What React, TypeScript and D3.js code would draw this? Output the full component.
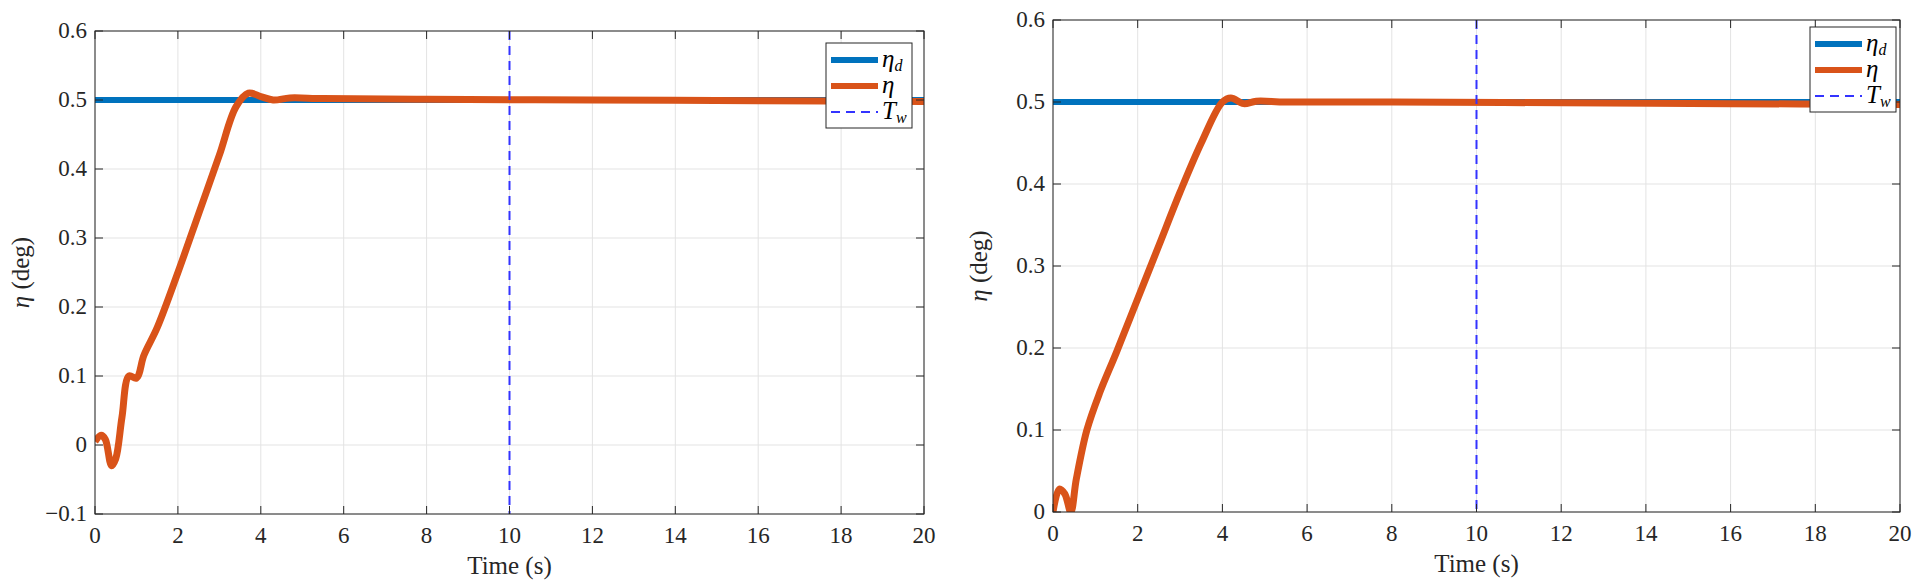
import React from 'react';
import * as d3 from 'd3';

const timeTicks = [0, 2, 4, 6, 8, 10, 12, 14, 16, 18, 20];
const leftYTicks = [-0.1, 0, 0.1, 0.2, 0.3, 0.4, 0.5, 0.6];
const rightYTicks = [0, 0.1, 0.2, 0.3, 0.4, 0.5, 0.6];
const desired = 0.5;
const switchTime = 10;

// [time, eta]
const leftEta: [number, number][] = [
  [0, 0.005], [0.15, 0.014], [0.25, 0.008], [0.4, -0.03], [0.5, -0.02], [0.65, 0.04],
  [0.82, 0.1], [1.0, 0.097], [1.18, 0.13], [1.5, 0.17], [2, 0.25], [2.5, 0.335],
  [3, 0.42], [3.4, 0.49], [3.7, 0.51], [4.0, 0.505], [4.3, 0.5], [4.7, 0.503],
  [5.5, 0.502], [8, 0.501], [12, 0.5], [16, 0.499], [20, 0.498],
];
const rightEta: [number, number][] = [
  [0, 0.0], [0.15, 0.028], [0.28, 0.022], [0.42, 0.0], [0.55, 0.04], [0.8, 0.1],
  [1.1, 0.145], [1.5, 0.195], [2, 0.26], [2.5, 0.325], [3, 0.39], [3.5, 0.45],
  [4, 0.5], [4.2, 0.505], [4.5, 0.498], [4.8, 0.501], [5.5, 0.5], [8, 0.5],
  [12, 0.499], [16, 0.498], [20, 0.497],
];

const font = "'Liberation Serif', 'DejaVu Serif', serif";

interface PanelProps {
  left: number; right: number; top: number; bottom: number;
  yTicks: number[]; yDomain: [number, number]; eta: [number, number][];
  legend: { x: number; y: number };
}

const Panel: React.FC<PanelProps> = ({ left, right, top, bottom, yTicks, yDomain, eta, legend }) => {
  const x = d3.scaleLinear().domain([0, 20]).range([left, right]);
  const y = d3.scaleLinear().domain(yDomain).range([bottom, top]);
  const line = d3.line<[number, number]>().x(d => x(d[0])).y(d => y(d[1])).curve(d3.curveCatmullRom);
  const fmt = (v: number) => (v < 0 ? '\u22120.1' : v === 0 ? '0' : v.toFixed(1));
  return (
    <g style={{ fontFamily: font }}>
      <defs>
        <clipPath id={`c${left}`}><rect x={left} y={top} width={right - left} height={bottom - top} /></clipPath>
      </defs>
      {timeTicks.map(t => <line key={'gx' + t} x1={x(t)} x2={x(t)} y1={top} y2={bottom} stroke="#e3e3e3" />)}
      {yTicks.map(v => <line key={'gy' + v} x1={left} x2={right} y1={y(v)} y2={y(v)} stroke="#e3e3e3" />)}
      <g clipPath={`url(#c${left})`}>
        <line x1={left} x2={right} y1={y(desired)} y2={y(desired)} stroke="#0072BD" strokeWidth={6} />
        <path d={line(eta)!} fill="none" stroke="#D95319" strokeWidth={7} strokeLinejoin="round" />
        <line x1={x(switchTime)} x2={x(switchTime)} y1={top} y2={bottom} stroke="#3333ff" strokeWidth={2} strokeDasharray="9,6" />
      </g>
      <rect x={left} y={top} width={right - left} height={bottom - top} fill="none" stroke="#262626" strokeWidth={1} />
      {timeTicks.map(t => (
        <g key={'tx' + t}>
          <line x1={x(t)} x2={x(t)} y1={bottom} y2={bottom - 8} stroke="#262626" />
          <line x1={x(t)} x2={x(t)} y1={top} y2={top + 8} stroke="#262626" />
          <text x={x(t)} y={bottom + 29} fontSize={23} textAnchor="middle" fill="#262626">{t}</text>
        </g>
      ))}
      {yTicks.map(v => (
        <g key={'ty' + v}>
          <line x1={left} x2={left + 8} y1={y(v)} y2={y(v)} stroke="#262626" />
          <line x1={right} x2={right - 8} y1={y(v)} y2={y(v)} stroke="#262626" />
          <text x={left - 8} y={y(v) + 7} fontSize={23} textAnchor="end" fill="#262626">{fmt(v)}</text>
        </g>
      ))}
      <text x={(left + right) / 2} y={bottom + 60} fontSize={25} textAnchor="middle" fill="#262626">Time (s)</text>
      <text transform={`translate(${left - 66},${(top + bottom) / 2}) rotate(-90)`} fontSize={25} textAnchor="middle" fill="#262626">
        <tspan fontStyle="italic">η</tspan> (deg)
      </text>
      <g transform={`translate(${legend.x},${legend.y})`}>
        <rect width={86} height={85} fill="#fff" stroke="#262626" />
        <line x1={5} x2={52} y1={17} y2={17} stroke="#0072BD" strokeWidth={6} />
        <line x1={5} x2={52} y1={43} y2={43} stroke="#D95319" strokeWidth={6} />
        <line x1={5} x2={52} y1={69} y2={69} stroke="#3333ff" strokeWidth={2} strokeDasharray="9,6" />
        <text x={56} y={24} fontSize={25} fontStyle="italic" fill="#000">η<tspan fontSize={16} dy={4}>d</tspan></text>
        <text x={56} y={50} fontSize={25} fontStyle="italic" fill="#000">η</text>
        <text x={56} y={76} fontSize={25} fontStyle="italic" fill="#000">T<tspan fontSize={16} dy={4}>w</tspan></text>
      </g>
    </g>
  );
};

export default function App() {
  return (
    <svg width={1917} height={586} style={{ position: 'absolute', left: 0, top: 0, background: '#fff' }}>
      <Panel left={95} right={924} top={31} bottom={514} yTicks={leftYTicks} yDomain={[-0.1, 0.6]} eta={leftEta} legend={{ x: 826, y: 43 }} />
      <Panel left={1053} right={1900} top={20} bottom={512} yTicks={rightYTicks} yDomain={[0, 0.6]} eta={rightEta} legend={{ x: 1810, y: 27 }} />
    </svg>
  );
}
